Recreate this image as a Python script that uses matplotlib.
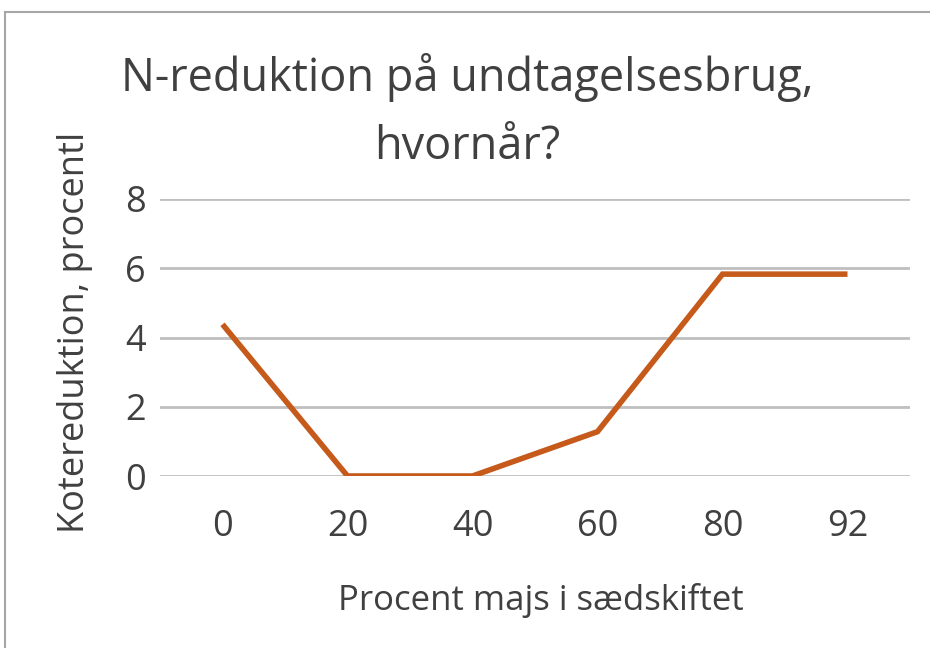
import matplotlib
matplotlib.use("Agg")
import matplotlib.pyplot as plt
from matplotlib.patches import Rectangle

categories = ["0", "20", "40", "60", "80", "92"]
values = [4.38, 0.0, 0.0, 1.28, 5.83, 5.83]
yticks = [0, 2, 4, 6, 8]

title_lines = ["N-reduktion på undtagelsesbrug,", "hvornår?"]
xlabel = "Procent majs i sædskiftet"
ylabel = "Kotereduktion, procentl"

FONT = ["Open Sans", "DejaVu Sans"]
plt.rcParams["font.family"] = FONT
TXT = "#404040"

fig = plt.figure(figsize=(9.3, 6.48), dpi=100)
fig.patch.set_facecolor("white")

# outer frame of the chart
fig.patches.append(Rectangle((5 / 930, -0.1), 1.2, 1 - 12 / 648 + 0.1,
                             transform=fig.transFigure, fill=False,
                             edgecolor="#a6a6a6", linewidth=1.5))

ax = fig.add_axes([160 / 930, 1 - 476 / 648, 750 / 930, (476 - 199) / 648])
x = list(range(len(categories)))
ax.plot(x, values, color="#c55a1a", linewidth=4, solid_capstyle="butt",
        solid_joinstyle="miter", zorder=3)

ax.set_xlim(-0.5, len(categories) - 0.5)
ax.set_ylim(0, 8)
ax.set_yticks(yticks)
ax.set_yticklabels([str(v) for v in yticks])
ax.set_xticks(x)
ax.set_xticklabels(categories)
ax.grid(axis="y", color="#bfbfbf", linewidth=2)
ax.set_axisbelow(True)
for s in ax.spines.values():
    s.set_visible(False)
ax.tick_params(axis="both", length=0, labelsize=26, colors=TXT)
ax.tick_params(axis="y", pad=10)
ax.tick_params(axis="x", pad=24)

for line, yb in zip(title_lines, [91, 159]):
    fig.text(467 / 930, 1 - yb / 648, line, ha="center", va="baseline",
             fontsize=32.5, color=TXT)
fig.text(541 / 930, 1 - 600 / 648, xlabel, ha="center", va="center",
         fontsize=25, color=TXT)
fig.text(75 / 930, 1 - 332 / 648, ylabel, ha="center", va="center",
         rotation=90, fontsize=26, color=TXT)

fig.savefig("out.png", dpi=100, facecolor="white")
